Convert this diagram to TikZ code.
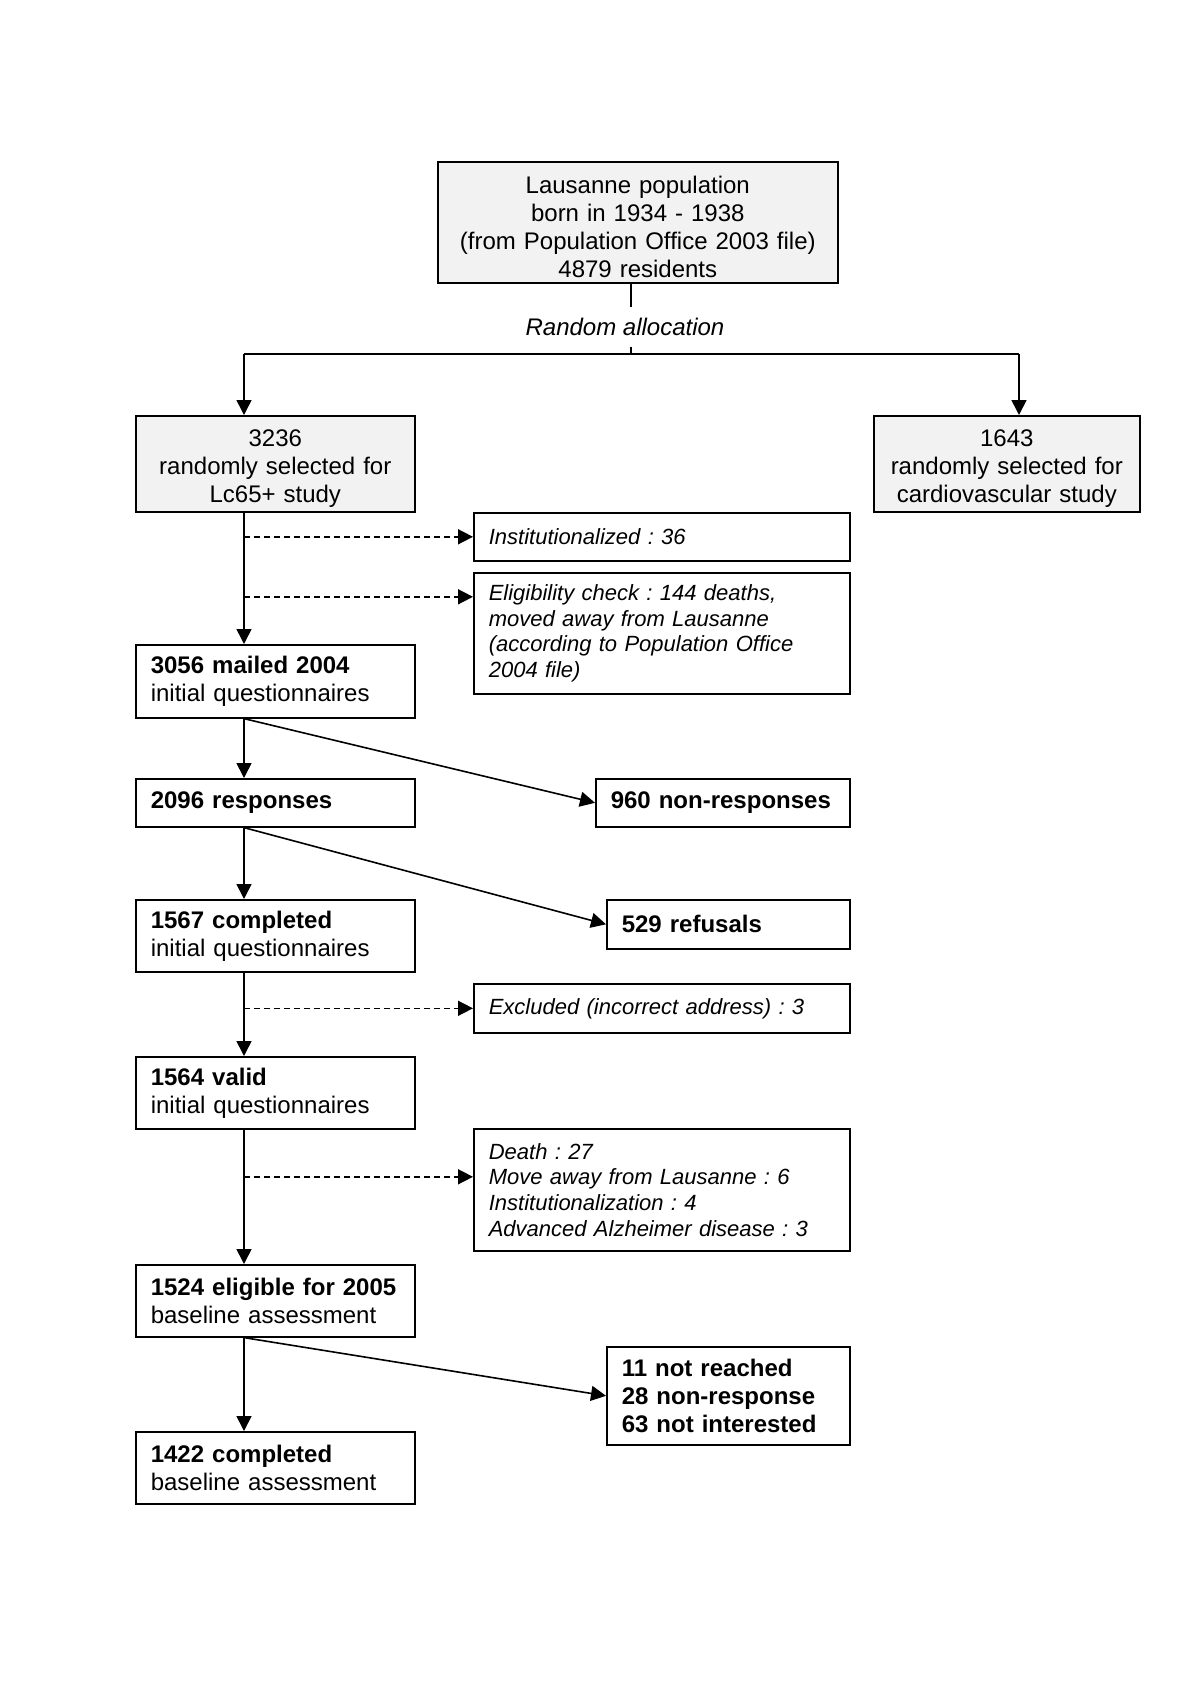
\documentclass[tikz,border=0pt]{standalone}
\usepackage{fontspec}
\setmainfont{Liberation Sans}
\usetikzlibrary{arrows.meta,positioning}

\tikzset{
  box/.style={draw,line width=0.8pt,anchor=north west,inner xsep=7.5pt,inner ysep=1pt},
  grey/.style={box,fill=gray!10,align=center},
  stage/.style={box,align=left,text width=124.5pt},
  note/.style={box,align=left,text width=173pt,font=\fontsize{11}{12.8}\selectfont\itshape},
  arr/.style={line width=0.8pt,-{Triangle[length=7.5pt,width=7.5pt]}},
  darr/.style={arr,dash pattern=on 3pt off 2pt}
}

\begin{document}
\frenchspacing
\begin{tikzpicture}[x=0.5pt,y=-0.5pt,line width=0.8pt,
  every node/.append style={font=\fontsize{12}{14}\selectfont}]
\useasboundingbox (0,0) rectangle (1200,1698);

% population and allocation
\node[grey,text width=185pt,minimum height=60.5pt] (top) at (437,161)
  {\rule{0pt}{13pt}Lausanne population\\born in 1934 - 1938\\(from Population Office 2003 file)\\4879 residents};
\node[inner ysep=5pt,font=\fontsize{12}{14}\selectfont\itshape] (alloc) at (625,327) {Random allocation};
\coordinate (split) at (631,354);
\coordinate (lft) at (244,354);
\coordinate (rgt) at (1019,354);

\node[grey,text width=124.5pt,minimum height=48pt] (lc) at (135,415)
  {\rule{0pt}{13pt}3236\\randomly selected for\\Lc65+ study};
\node[grey,text width=118pt,minimum height=48pt] (cv) at (873,415)
  {\rule{0pt}{13pt}1643\\randomly selected for\\cardiovascular study};

% main stages
\node[stage,minimum height=36.5pt] (mail) at (135,644) {\textbf{3056 mailed 2004}\\initial questionnaires};
\node[stage,minimum height=24pt] (resp) at (135,778) {\textbf{2096 responses}};
\node[stage,minimum height=36pt] (compl) at (135,899) {\textbf{1567 completed}\\initial questionnaires};
\node[stage,minimum height=36pt] (valid) at (135,1056) {\textbf{1564 valid}\\initial questionnaires};
\node[stage,minimum height=36pt] (elig) at (135,1264) {\textbf{1524 eligible for 2005}\\baseline assessment};
\node[stage,minimum height=36pt] (final) at (135,1431) {\textbf{1422 completed}\\baseline assessment};

% exclusions
\node[note,minimum height=24pt] (inst) at (473,512) {Institutionalized : 36};
\node[note,minimum height=60.5pt] (check) at (473,572)
  {Eligibility check : 144 deaths,\\moved away from Lausanne\\(according to Population Office\\2004 file)};
\node[note,minimum height=24.5pt] (excl) at (473,983) {Excluded (incorrect address) : 3};
\node[note,minimum height=61pt] (death) at (473,1128)
  {Death : 27\\Move away from Lausanne : 6\\Institutionalization : 4\\Advanced Alzheimer disease : 3};

\node[stage,text width=112pt,minimum height=24pt] (nonresp) at (595,778) {\textbf{960 non-responses}};
\node[stage,text width=106.5pt,minimum height=24.5pt] (refus) at (606,899) {\textbf{529 refusals}};
\node[stage,text width=106.5pt,minimum height=49pt] (lost) at (606,1346)
  {\textbf{11 not reached}\\\textbf{28 non-response}\\\textbf{63 not interested}};

% connectors
\draw (top.south -| split) -- (alloc.north -| split);
\draw (alloc.south -| split) -- (split);
\draw (lft) -- (rgt);
\draw[arr] (lft) -- (lft |- lc.north);
\draw[arr] (rgt) -- (rgt |- cv.north);

\draw[arr] (lc.south -| lft) -- (mail.north -| lft);
\draw[arr] (mail.south -| lft) -- (resp.north -| lft);
\draw[arr] (resp.south -| lft) -- (compl.north -| lft);
\draw[arr] (compl.south -| lft) -- (valid.north -| lft);
\draw[arr] (valid.south -| lft) -- (elig.north -| lft);
\draw[arr] (elig.south -| lft) -- (final.north -| lft);

\draw[darr] (inst.west -| lft) -- (inst.west);
\draw[darr] ([yshift=18.25pt]check.west -| lft) -- ([yshift=18.25pt]check.west);
\draw[darr] (excl.west -| lft) -- (excl.west);
\draw[darr] ([yshift=6.5pt]death.west -| lft) -- ([yshift=6.5pt]death.west);

\draw[arr] (mail.south -| lft) -- (nonresp.west);
\draw[arr] (resp.south -| lft) -- (refus.west);
\draw[arr] (elig.south -| lft) -- (lost.west);
\end{tikzpicture}
\end{document}
